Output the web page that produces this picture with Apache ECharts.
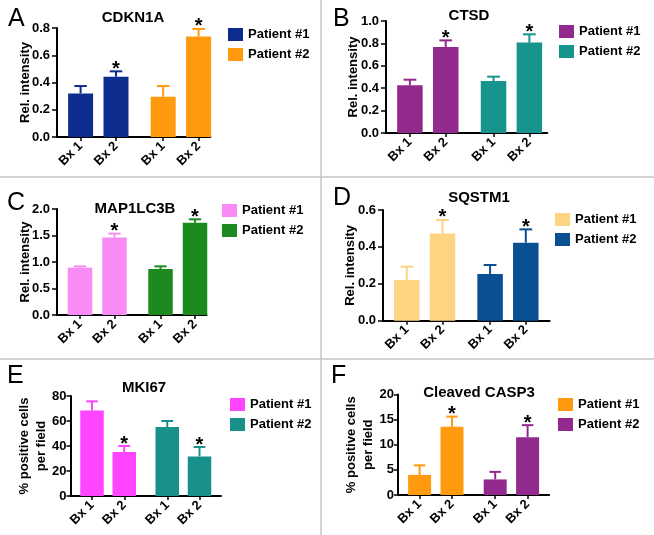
<!DOCTYPE html>
<html>
<head>
<meta charset="utf-8">
<title>Biopsy marker bar charts</title>
<script src="https://cdn.jsdelivr.net/npm/echarts@6/dist/echarts.min.js"></script>
<style>
  html, body { margin: 0; padding: 0; background: #fff; }
  #chart { width: 654px; height: 535px; }
</style>
</head>
<body>
<div id="chart"></div>
<script>
// categories shared by every panel
const bxLabels = ['Bx 1', 'Bx 2'];
const patientNames = ['Patient #1', 'Patient #2'];
const significant = [false, true];

// A - CDKN1A
const cdkn1aP1 = [0.32, 0.443];
const cdkn1aP1Err = [0.054, 0.039];
const cdkn1aP2 = [0.295, 0.738];
const cdkn1aP2Err = [0.079, 0.055];
const cdkn1aAxis = [0, 0.8, 0.2];

// B - CTSD
const ctsdP1 = [0.426, 0.768];
const ctsdP1Err = [0.05, 0.059];
const ctsdP2 = [0.464, 0.807];
const ctsdP2Err = [0.039, 0.074];
const ctsdAxis = [0, 1.0, 0.2];

// C - MAP1LC3B
const map1lc3bP1 = [0.89, 1.46];
const map1lc3bP1Err = [0.028, 0.075];
const map1lc3bP2 = [0.868, 1.742];
const map1lc3bP2Err = [0.05, 0.063];
const map1lc3bAxis = [0, 2.0, 0.5];

// D - SQSTM1
const sqstm1P1 = [0.22, 0.473];
const sqstm1P1Err = [0.073, 0.073];
const sqstm1P2 = [0.253, 0.423];
const sqstm1P2Err = [0.049, 0.072];
const sqstm1Axis = [0, 0.6, 0.2];

// E - MKI67
const mki67P1 = [68.5, 35.2];
const mki67P1Err = [7.2, 4.8];
const mki67P2 = [55.2, 31.7];
const mki67P2Err = [4.8, 7.5];
const mki67Axis = [0, 80, 20];

// F - Cleaved CASP3
const casp3P1 = [4.0, 13.6];
const casp3P1Err = [1.9, 2.0];
const casp3P2 = [3.1, 11.5];
const casp3P2Err = [1.5, 2.4];
const casp3Axis = [0, 20, 5];

const FONT = '"Liberation Sans", Arial, Helvetica, sans-serif';

const panels = [
  { letter: 'A', title: 'CDKN1A', yName: 'Rel. intensity', dec: 1, axis: cdkn1aAxis,
    p1: cdkn1aP1, p1Err: cdkn1aP1Err, p2: cdkn1aP2, p2Err: cdkn1aP2Err,
    colors: ['#0c2d8e', '#ff9a0e'],
    grid: { left: 57, top: 28, width: 153.4, height: 109 }, lead: 4, trail: 2, barWidth: 25,
    nameGap: 23, tick: 5, margin: 7, titleAt: [133, 18], letterAt: [8, 7], legendAt: [228, 28] },
  { letter: 'B', title: 'CTSD', yName: 'Rel. intensity', dec: 1, axis: ctsdAxis,
    p1: ctsdP1, p1Err: ctsdP1Err, p2: ctsdP2, p2Err: ctsdP2Err,
    colors: ['#922a8e', '#18948f'],
    grid: { left: 386, top: 21, width: 161.3, height: 112 }, lead: 4, trail: 3, barWidth: 25.5,
    nameGap: 24, tick: 5, margin: 7, titleAt: [469, 16], letterAt: [333, 7], legendAt: [559, 25] },
  { letter: 'C', title: 'MAP1LC3B', yName: 'Rel. intensity', dec: 1, axis: map1lc3bAxis,
    p1: map1lc3bP1, p1Err: map1lc3bP1Err, p2: map1lc3bP2, p2Err: map1lc3bP2Err,
    colors: ['#f98cf4', '#1c8a1e'],
    grid: { left: 57, top: 209, width: 149.5, height: 106 }, lead: 4, trail: 2, barWidth: 24.5,
    nameGap: 23, tick: 5, margin: 7, titleAt: [135, 209], letterAt: [7, 191], legendAt: [222, 204] },
  { letter: 'D', title: 'SQSTM1', yName: 'Rel. intensity', dec: 1, axis: sqstm1Axis,
    p1: sqstm1P1, p1Err: sqstm1P1Err, p2: sqstm1P2, p2Err: sqstm1P2Err,
    colors: ['#fdd582', '#0b4f93'],
    grid: { left: 383, top: 210, width: 166.6, height: 110.7 }, lead: 4, trail: 4, barWidth: 25.5,
    nameGap: 24, tick: 5, margin: 7, titleAt: [479, 198], letterAt: [333, 186], legendAt: [555, 213] },
  { letter: 'E', title: 'MKI67', yName: '% positive cells\nper field', dec: 0, axis: mki67Axis,
    p1: mki67P1, p1Err: mki67P1Err, p2: mki67P2, p2Err: mki67P2Err,
    colors: ['#ff45ff', '#18918b'],
    grid: { left: 70.5, top: 396, width: 150.5, height: 100 }, lead: 4, trail: 4, barWidth: 23.5,
    nameGap: 21, tick: 4, margin: 4, titleAt: [144, 388], letterAt: [7, 364], legendAt: [230, 398] },
  { letter: 'F', title: 'Cleaved CASP3', yName: '% positive cells\nper field', dec: 0, axis: casp3Axis,
    p1: casp3P1, p1Err: casp3P1Err, p2: casp3P2, p2Err: casp3P2Err,
    colors: ['#ff9a0e', '#922a8e'],
    grid: { left: 398, top: 394.5, width: 151.2, height: 100.5 }, lead: 4, trail: 4, barWidth: 23,
    nameGap: 21, tick: 4, margin: 4, titleAt: [479, 393], letterAt: [331, 364], legendAt: [558, 398] }
];

const option = {
  animation: false,
  backgroundColor: '#fff',
  textStyle: { fontFamily: FONT },
  grid: [], xAxis: [], yAxis: [], series: [], legend: [],
  graphic: [
    { type: 'line', shape: { x1: 0, y1: 177, x2: 654, y2: 177 }, style: { stroke: '#c4c4c4', lineWidth: 1.5 } },
    { type: 'line', shape: { x1: 0, y1: 359, x2: 654, y2: 359 }, style: { stroke: '#c4c4c4', lineWidth: 1.5 } },
    { type: 'line', shape: { x1: 321, y1: 0, x2: 321, y2: 535 }, style: { stroke: '#c4c4c4', lineWidth: 1.5 } }
  ]
};

panels.forEach((p, k) => {
  // slot layout: half-spacing units along the category axis
  const slots = [p.lead, p.lead + 6, p.lead + 14, p.lead + 20];
  const cats = [];
  for (let i = 0; i <= p.lead + 20 + p.trail; i++) cats.push('');
  slots.forEach((s, i) => { cats[s] = bxLabels[i % 2]; });

  option.grid.push(Object.assign({ containLabel: false }, p.grid));
  option.xAxis.push({
    type: 'category', gridIndex: k, data: cats, boundaryGap: false,
    axisLine: { lineStyle: { color: '#000', width: 2 } },
    axisTick: { show: true, length: 4, lineStyle: { color: '#000', width: 1.5 },
      interval: (i, v) => v !== '' },
    axisLabel: { interval: (i, v) => v !== '', rotate: 45, margin: 7,
      color: '#000', fontSize: 13, fontWeight: 'bold', fontFamily: FONT },
    splitLine: { show: false }
  });
  option.yAxis.push({
    type: 'value', gridIndex: k, min: p.axis[0], max: p.axis[1], interval: p.axis[2],
    name: p.yName, nameLocation: 'middle', nameRotate: 90, nameGap: p.nameGap,
    nameMoveOverlap: false,
    nameTextStyle: { color: '#000', fontSize: 13, fontWeight: 'bold', fontFamily: FONT, lineHeight: 17 },
    axisLine: { show: true, lineStyle: { color: '#000', width: 2 } },
    axisTick: { show: true, length: p.tick, lineStyle: { color: '#000', width: 1.5 } },
    axisLabel: { color: '#000', fontSize: 13, fontWeight: 'bold', fontFamily: FONT, margin: p.margin,
      formatter: v => v.toFixed(p.dec) },
    splitLine: { show: false }
  });

  const groups = [[p.p1, p.p1Err], [p.p2, p.p2Err]];
  const names = [];
  groups.forEach(([vals, errs], g) => {
    const name = p.letter + ':' + patientNames[g];
    names.push(name);
    const color = p.colors[g];
    const xs = slots.slice(g * 2, g * 2 + 2);
    option.series.push({
      type: 'bar', name, xAxisIndex: k, yAxisIndex: k,
      barWidth: p.barWidth, barGap: '-100%',
      itemStyle: { color },
      data: vals.map((v, j) => [xs[j], v])
    });
    option.series.push({
      type: 'custom', xAxisIndex: k, yAxisIndex: k, clip: false, silent: true, z: 3,
      data: vals.map((v, j) => [xs[j], v, errs[j], significant[j] ? 1 : 0]),
      renderItem: (params, api) => {
        const x = api.value(0), v = api.value(1), e = api.value(2);
        const a = api.coord([x, v]);
        const b = api.coord([x, v + e]);
        const cap = p.barWidth * 0.5;
        const children = [
          { type: 'line', shape: { x1: a[0], y1: a[1], x2: b[0], y2: b[1] },
            style: { stroke: color, lineWidth: 2 } },
          { type: 'line', shape: { x1: b[0] - cap / 2, y1: b[1], x2: b[0] + cap / 2, y2: b[1] },
            style: { stroke: color, lineWidth: 2 } }
        ];
        if (api.value(3)) {
          children.push({ type: 'text', x: b[0], y: b[1] - 2,
            style: { text: '*', fill: '#000', font: 'bold 20px ' + FONT, align: 'center', verticalAlign: 'middle' } });
        }
        return { type: 'group', children };
      }
    });
  });

  option.legend.push({
    data: names, left: p.legendAt[0], top: p.legendAt[1], orient: 'vertical',
    icon: 'rect', itemWidth: 15, itemHeight: 13, itemGap: 7, padding: 0,
    selectedMode: false,
    formatter: n => n.split(':')[1],
    textStyle: { color: '#000', fontSize: 13, fontWeight: 'bold', fontFamily: FONT, padding: [0, 0, 0, 0] }
  });

  option.graphic.push({ type: 'text', x: p.titleAt[0], y: p.titleAt[1],
    style: { text: p.title, fill: '#000', font: 'bold 15px ' + FONT, align: 'center', verticalAlign: 'middle' } });
  option.graphic.push({ type: 'text', x: p.letterAt[0], y: p.letterAt[1],
    style: { text: p.letter, fill: '#000', font: '25px ' + FONT, align: 'left', verticalAlign: 'top' } });
});

const chart = echarts.init(document.getElementById('chart'));
chart.setOption(option);
</script>
</body>
</html>
